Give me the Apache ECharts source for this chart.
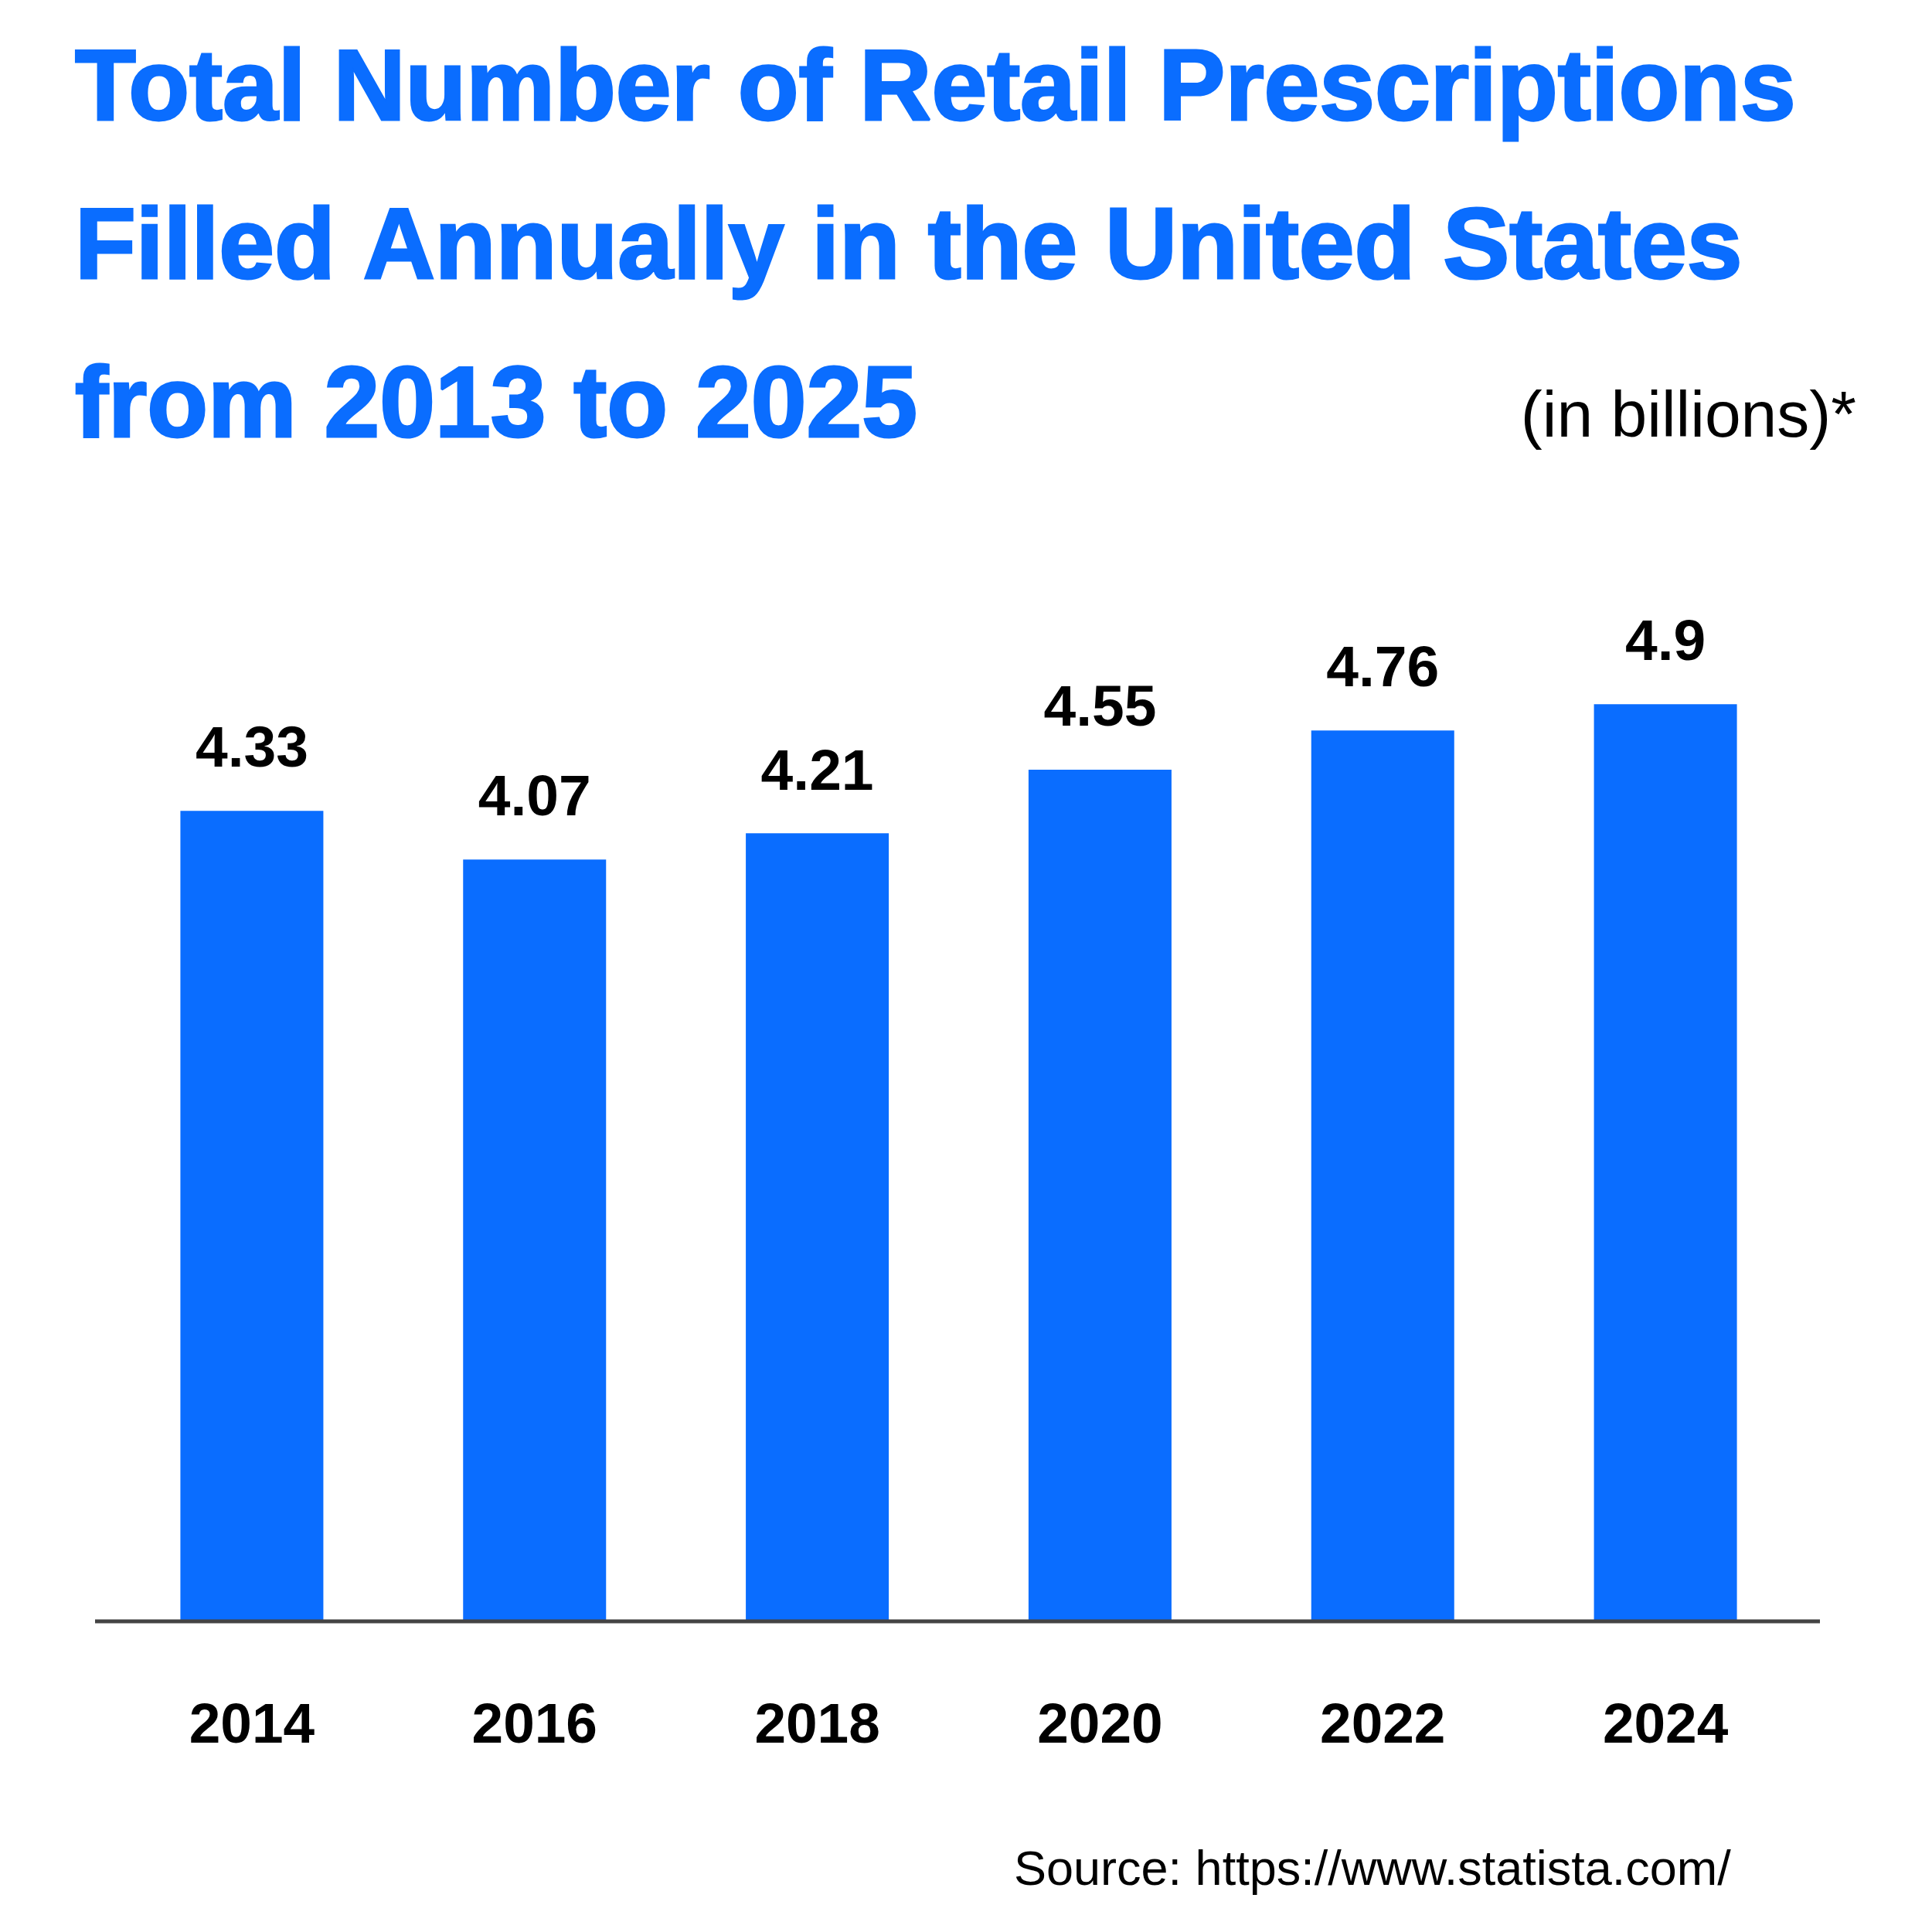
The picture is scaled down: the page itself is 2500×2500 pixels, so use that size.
<!DOCTYPE html>
<html>
<head>
<meta charset="utf-8">
<script src="https://cdn.jsdelivr.net/npm/echarts@6/dist/echarts.min.js"></script>
<style>
html,body{margin:0;padding:0;background:#fff;}
#chart{width:2500px;height:2500px;}
</style>
</head>
<body>
<div id="chart"></div>
<script>
const titleLines = ['Total Number of Retail Prescriptions', 'Filled Annually in the United States', 'from 2013 to 2025'];
const unitNote = '(in billions)*';
const sourceNote = 'Source: https://www.statista.com/';
const years = ['2014', '2016', '2018', '2020', '2022', '2024'];
const prescriptions = [4.33, 4.07, 4.21, 4.55, 4.76, 4.9];

const BLUE = '#0a6dff';
const FONT = '"Liberation Sans", Arial, Helvetica, sans-serif';

const chart = echarts.init(document.getElementById('chart'), null, {renderer: 'canvas'});
chart.setOption({
  backgroundColor: '#ffffff',
  animation: false,
  title: {
    text: titleLines.join('\n'),
    left: 97,
    top: 17,
    padding: 0,
    textStyle: {
      fontFamily: FONT,
      fontSize: 129,
      fontWeight: 'bold',
      color: BLUE,
      lineHeight: 205,
      textBorderColor: BLUE,
      textBorderWidth: 3
    }
  },
  grid: {left: 143, right: 162, top: 887, bottom: 402, containLabel: false},
  xAxis: {
    type: 'category',
    data: years,
    axisLine: {show: false},
    axisTick: {show: false},
    axisLabel: {
      margin: 100,
      fontFamily: FONT,
      fontSize: 73,
      fontWeight: 'bold',
      color: '#000'
    }
  },
  yAxis: {
    type: 'value',
    min: 0,
    max: 5,
    show: false,
    splitLine: {show: false}
  },
  series: [{
    type: 'bar',
    data: prescriptions,
    barWidth: 185,
    itemStyle: {color: BLUE},
    label: {
      show: true,
      position: 'top',
      distance: 40,
      fontFamily: FONT,
      fontSize: 75,
      fontWeight: 'bold',
      color: '#000'
    }
  }],
  graphic: [
    {
      type: 'line',
      z: 100,
      shape: {x1: 123, y1: 2098, x2: 2355, y2: 2098},
      style: {stroke: '#444444', lineWidth: 5}
    },
    {
      type: 'text',
      x: 2402,
      y: 542,
      style: {
        text: unitNote,
        font: '84px ' + FONT,
        fill: '#000',
        textAlign: 'right',
        textVerticalAlign: 'middle'
      }
    },
    {
      type: 'text',
      x: 1312,
      y: 2422,
      style: {
        text: sourceNote,
        font: '63px ' + FONT,
        fill: '#000',
        textAlign: 'left',
        textVerticalAlign: 'middle'
      }
    }
  ]
});
</script>
</body>
</html>
